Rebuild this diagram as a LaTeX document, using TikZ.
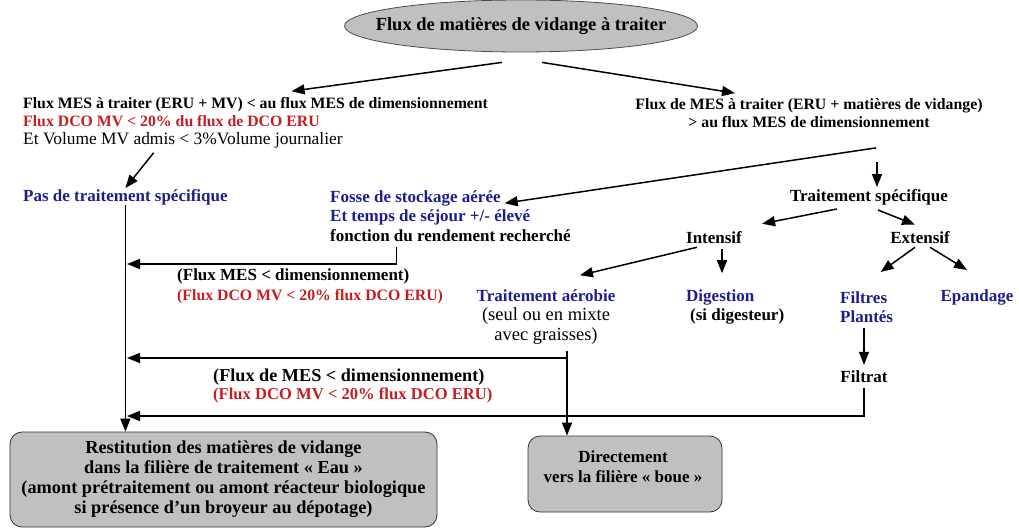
\documentclass[tikz,border=0pt]{standalone}
\usepackage{fontspec}
\setmainfont{Liberation Serif}
\usetikzlibrary{arrows.meta,shapes.geometric}
\definecolor{silver}{RGB}{192,192,192}
\definecolor{midnight}{RGB}{28,30,140}
\definecolor{crimson}{RGB}{196,30,36}

\begin{document}
\begin{tikzpicture}[x=1pt, y=-1pt,
    txt/.style={inner sep=0pt, font=\fontsize{17}{19.6}\selectfont\bfseries},
    small/.style={inner sep=0pt, font=\fontsize{15.8}{18.2}\selectfont\bfseries},
    arr/.style={-{Triangle[length=13pt,width=10pt]}, line width=1.5pt},
    box/.style={draw=black!80, fill=silver, rounded corners=12pt, line width=0.8pt}]
    \useasboundingbox (0,0) rectangle (1019,529);

    % source
    \node[ellipse, draw=black!70, fill=silver, line width=0.8pt, minimum width=353pt, minimum height=52pt,
          inner xsep=-22pt, inner ysep=0pt, font=\fontsize{18.5}{21}\selectfont\bfseries] (top) at (521,26) {Flux de matières de vidange à traiter};

    % the two cases
    \node[small, anchor=west, align=left] (left)  at ( 23,123) {Flux MES à traiter (ERU + MV) < au flux MES de dimensionnement\\
        {\color{crimson}Flux DCO MV < 20\% du flux de DCO ERU}\\
        {\fontsize{17.4}{18.2}\selectfont\mdseries Et Volume MV admis < 3\%Volume journalier}};
    \node[small, align=center]             (right) at (809,113) {Flux de MES à traiter (ERU + matières de vidange)\\ > au flux MES de dimensionnement};

    % treatments
    \node[txt, text=midnight, anchor=west]  (pas)     at ( 23,197) {Pas de traitement spécifique};
    \node[txt, anchor=west, align=left]     (fosse)   at (330,216) {{\color{midnight}Fosse de stockage aérée}\\
        {\color{midnight}Et temps de séjour +/- élevé}\\ fonction du rendement recherché};
    \node[txt]                              (trait)   at (869,197) {Traitement spécifique};
    \node[txt]                              (intens)  at (714,238) {Intensif};
    \node[txt]                              (extens)  at (920,238) {Extensif};
    \node[txt, align=center]                (aero)    at (546,317) {{\color{midnight}Traitement aérobie}\\
        {\fontsize{18.5}{19.6}\selectfont\mdseries (seul ou en mixte}\\ {\fontsize{18.5}{19.6}\selectfont\mdseries avec graisses)}};
    \node[txt, anchor=west, align=left]     (dig)     at (686,307) {{\color{midnight}Digestion}\\ \hspace*{4pt}(si digesteur)};
    \node[txt, text=midnight, anchor=west, align=left] (filtres) at (840,307) {Filtres\\ Plantés};
    \node[txt, text=midnight]               (epand)   at (977,297) {Epandage};
    \node[txt]                              (filtrat) at (864,377) {Filtrat};

    % conditions on the returns
    \node[txt, anchor=west, align=left]     (cond1)   at (177,286) {(Flux MES < dimensionnement)\\
        {\fontsize{15.8}{19.6}\selectfont\color{crimson}(Flux DCO MV < 20\% flux DCO ERU)}};
    \node[txt, anchor=west, align=left, font=\fontsize{18.2}{17.5}\selectfont\bfseries] (cond2) at (213,386) {(Flux de MES < dimensionnement)\\
        {\fontsize{16.6}{17.5}\selectfont\color{crimson}(Flux DCO MV < 20\% flux DCO ERU)}};

    % outlets
    \node[box, minimum width=427pt, minimum height=95pt, inner sep=0pt, align=center,
          font=\fontsize{18.3}{20}\selectfont\bfseries] (restit) at (223.5,479.5) {Restitution des matières de vidange\\
        dans la filière de traitement « Eau »\\ (amont prétraitement ou amont réacteur biologique\\ si présence d’un broyeur au dépotage)};
    \node[box, minimum width=194pt, minimum height=76pt] (boue) at (625,474) {};
    \node[txt, align=center] (bouetxt) at (623,467) {Directement\\ vers la filière « boue »};

    \coordinate (in1) at (127,264);
    \coordinate (in2) at (127,358);
    \coordinate (in3) at (127,416);
    \coordinate (drop) at ([shift={(21,6)}]aero.south);

    \draw[arr] ([shift={(-19,10)}]top.south) -- ([shift={(36,-6)}]left.north);
    \draw[arr] ([shift={(21,10)}]top.south) -- ([shift={(-74,-5)}]right.north);
    \draw[arr] ([shift={(-102,4)}]left.south) -- ([shift={(0,-1)}]pas.north);
    \draw[arr] (pas.south) -- (pas.south |- restit.north);
    \draw[arr] ([shift={(-54,5)}]fosse.south) |- (in1);
    \draw[arr] ([shift={(67,20)}]right.south) -- ([shift={(-66,13)}]fosse.north east);
    \draw[arr] ([shift={(8,-27)}]trait.north) -- ([shift={(8,-2)}]trait.north);
    \draw[arr] ([shift={(47,4)}]trait.south west) -- ([shift={(20,-8)}]intens.north east);
    \draw[arr] ([shift={(9,5)}]trait.south) -- ([shift={(-5,-7)}]extens.north);
    \draw[arr] ([shift={(11,3)}]intens.south west) -- ([shift={(34,-14)}]aero.north);
    \draw[arr] ([shift={(8,5)}]intens.south) -- ([shift={(8,-16)}]intens.south |- dig.north);
    \draw[arr] ([shift={(-5,3)}]extens.south) -- ([shift={(14,-19)}]filtres.north);
    \draw[arr] ([shift={(10,3)}]extens.south) -- ([shift={(-10,-19)}]epand.north);
    \draw[arr] (filtrat.north |- filtres.south) ++(0,5) -- ([shift={(0,-6)}]filtrat.north);
    \draw[arr] ([shift={(0,5)}]filtrat.south) |- (in3);
    \draw[arr] (drop) -- (drop |- boue.north);
    \draw[arr] (drop |- in2) -- (in2);
\end{tikzpicture}
\end{document}
